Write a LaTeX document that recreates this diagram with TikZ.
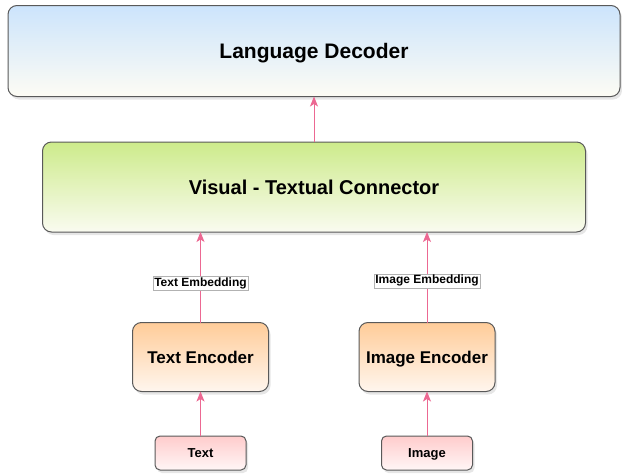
\documentclass[tikz,border=0pt]{standalone}
\usepackage{fontspec}
\setmainfont{Liberation Sans}
\usetikzlibrary{arrows.meta,shadows}

\begin{document}
\begin{tikzpicture}[x=1pt,y=-1pt,
  box/.style={draw=black!65,line width=1pt,rounded corners=9pt,outer sep=0pt,
    align=center,text depth=0pt,
    drop shadow={shadow xshift=2pt,shadow yshift=-3pt,opacity=0.2}},
  fsz/.style={font=\fontsize{#1}{#1}\selectfont\bfseries,text height=\fpeval{0.72*#1}pt},
  arr/.style={-{Stealth[length=10pt,width=8pt,inset=2.5pt]},line width=1pt,draw=arrpink,fill=arrpink},
  lab/.style={fill=white,draw=black!30,line width=0.5pt,inner xsep=1.5pt,inner ysep=1.5pt,
    font=\fontsize{12}{14}\selectfont\bfseries}]
\definecolor{arrpink}{RGB}{236,104,146}
\useasboundingbox (0,0) rectangle (622,474);

\node[box,fsz=21,minimum width=612pt,minimum height=91pt,top color={rgb,255:red,204;green,228;blue,252},bottom color={rgb,255:red,253;green,252;blue,244}] (dec) at (314,51) {Language Decoder};
\node[box,fsz=20,minimum width=543pt,minimum height=90pt,top color={rgb,255:red,205;green,235;blue,139},bottom color={rgb,255:red,250;green,251;blue,240}] (conn) at (314,187) {Visual - Textual Connector};

\node[box,fsz=17,minimum width=136pt,minimum height=69pt,top color={rgb,255:red,255;green,204;blue,153},bottom color={rgb,255:red,255;green,246;blue,238}] (tenc) at (200.5,357) {Text Encoder};
\node[box,fsz=17,minimum width=136pt,minimum height=69pt,top color={rgb,255:red,255;green,204;blue,153},bottom color={rgb,255:red,255;green,246;blue,238}] (ienc) at (427,357) {Image Encoder};

\node[box,fsz=13,minimum width=91pt,minimum height=34pt,rounded corners=5pt,top color={rgb,255:red,255;green,204;blue,204},bottom color={rgb,255:red,255;green,246;blue,246}] (txt) at (200.5,453) {Text};
\node[box,fsz=13,minimum width=91pt,minimum height=34pt,rounded corners=5pt,top color={rgb,255:red,255;green,204;blue,204},bottom color={rgb,255:red,255;green,246;blue,246}] (img) at (427,453) {Image};

% connectors
\draw[arr] (conn.north) -- (dec.south);
\draw[arr] (tenc.north) -- node[lab,pos=0.43] (temb) {Text Embedding} (tenc.north |- conn.south);
\draw[arr] (ienc.north) -- node[lab,pos=0.46] (iemb) {Image Embedding} (ienc.north |- conn.south);
\draw[arr] (txt.north) -- (tenc.south);
\draw[arr] (img.north) -- (ienc.south);

\end{tikzpicture}
\end{document}
